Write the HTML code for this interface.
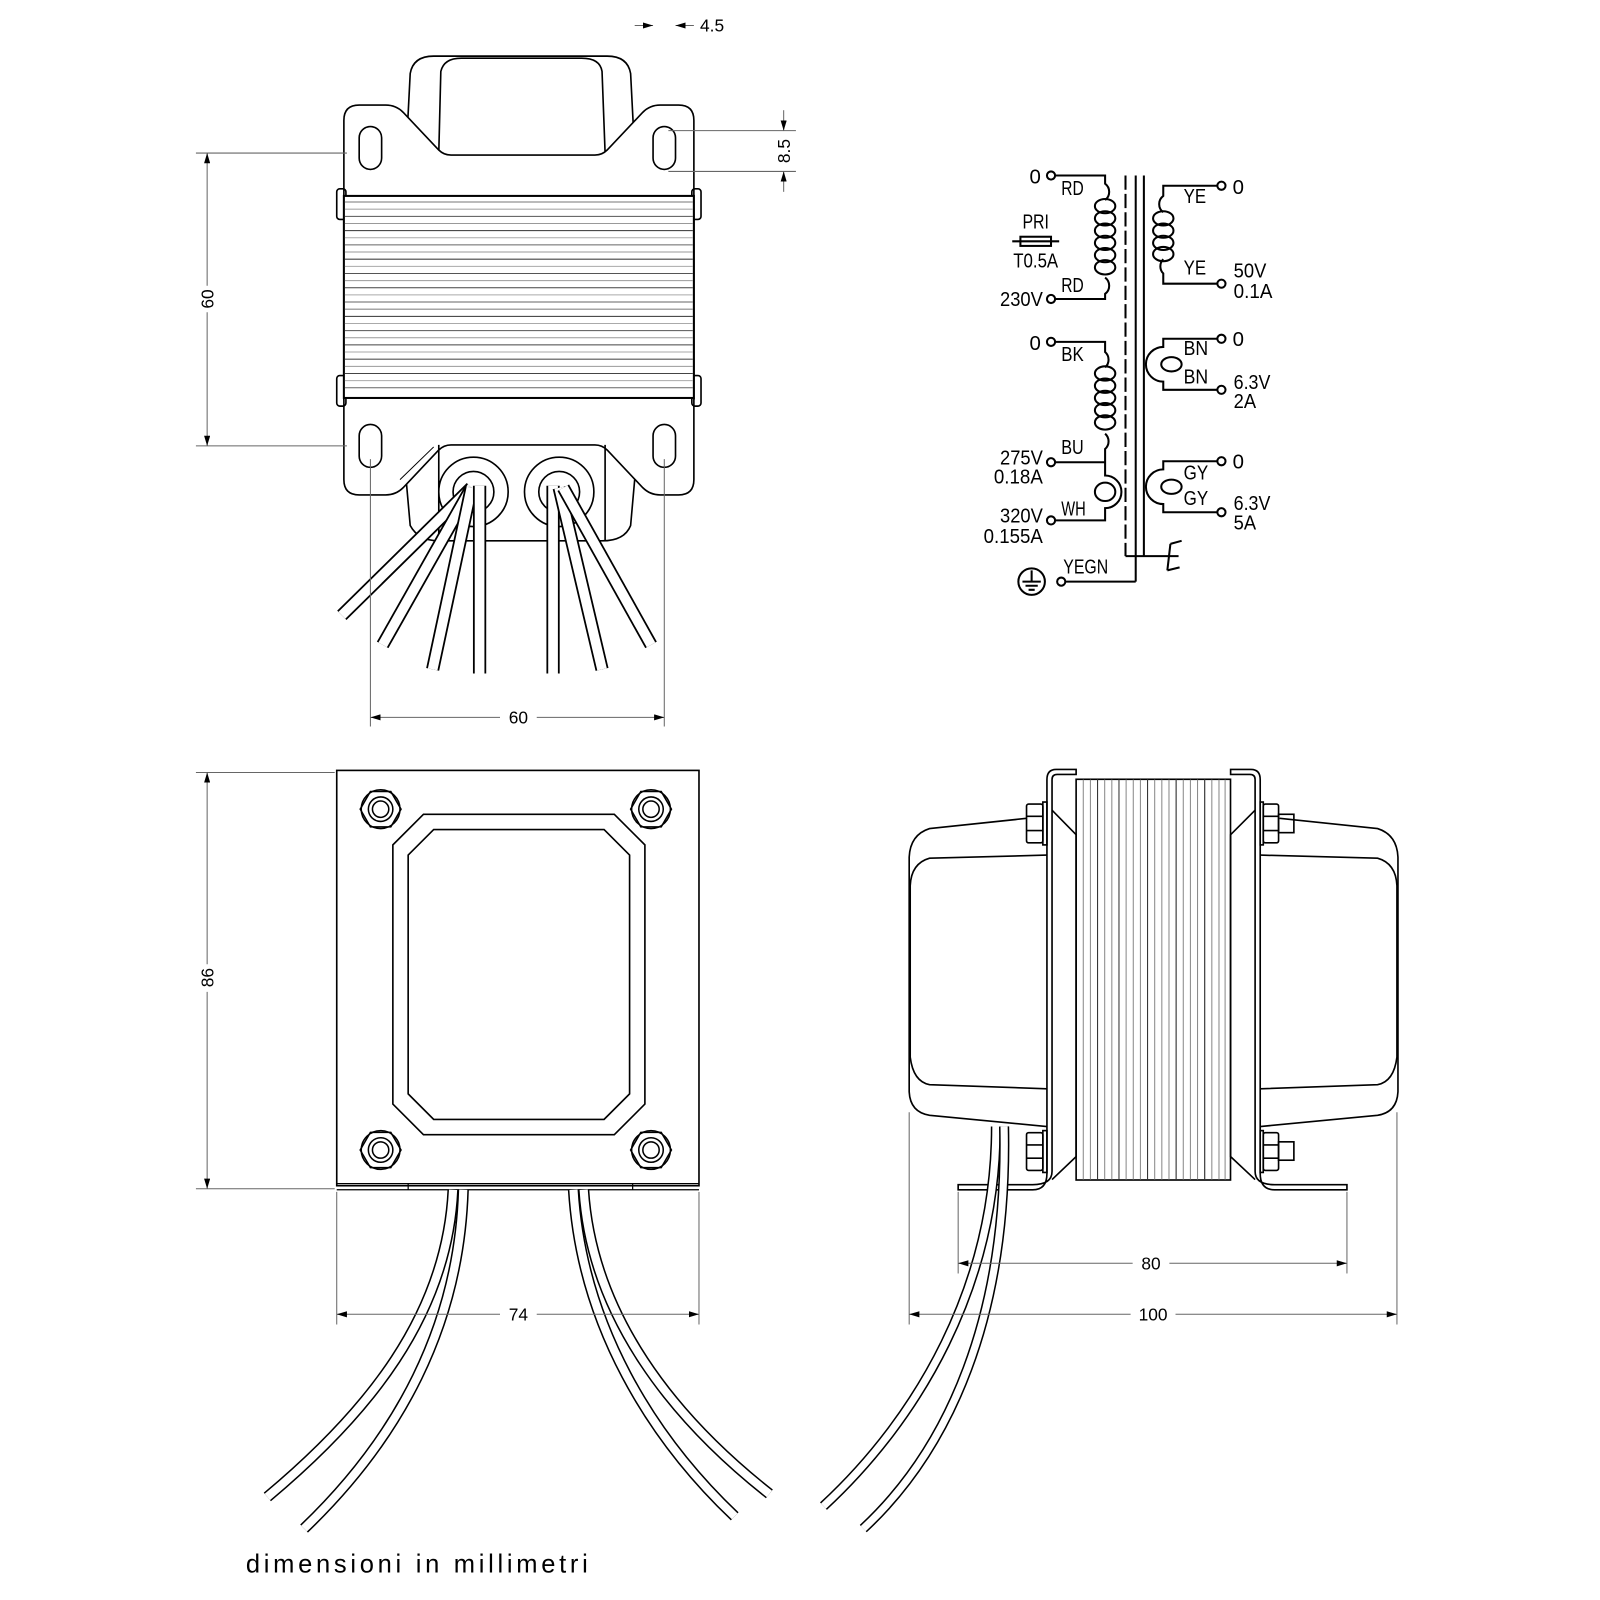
<!DOCTYPE html>
<html><head><meta charset="utf-8"><style>
html,body{margin:0;padding:0;background:#fff}
svg{display:block}
text{font-family:"Liberation Sans",sans-serif}
</style></head><body>
<svg width="1600" height="1600" viewBox="0 0 1568 1568" xmlns="http://www.w3.org/2000/svg">
<defs>
<marker id="a" viewBox="0 0 10 6" refX="10" refY="3" markerWidth="10" markerHeight="6" orient="auto-start-reverse" markerUnits="userSpaceOnUse"><path d="M0,0 L10,3 L0,6 Z" fill="#000"/></marker>
</defs>
<rect width="1568" height="1568" fill="#fff"/>

<!-- ===== TOP VIEW ===== -->
<g fill="none" stroke="#000" stroke-width="1.6">
<path d="M398,150 L402,72 Q405,55 425,55 L595,55 Q615,55 618,72 L622,150"/>
<path d="M430,150 L432,70 Q435,57 452,57 L570,57 Q588,57 590,70 L593,150"/>
<path d="M337,392 L337,118 Q337,103 352,103 L378,103 Q388,103 395,110 L430,147 Q435,152 442,152 L583,152 Q590,152 595,147 L630,110 Q637,103 647,103 L665,103 Q680,103 680,118 L680,392" fill="#fff"/>
<path d="M398,470 L402,515 Q410,530 430,530 L590,530 Q612,530 618,515 L622,470"/>
<path d="M337,390 L337,470 Q337,485 352,485 L378,485 Q388,485 395,478 L430,441 Q435,436 442,436 L583,436 Q590,436 595,441 L630,478 Q637,485 647,485 L665,485 Q680,485 680,470 L680,390" fill="#fff"/>
<path d="M430,436 L430,530 M593,436 L593,530"/>
<path d="M392,470 L425,438" stroke-width="1"/>
<rect x="352" y="124" width="22" height="42" rx="11"/>
<rect x="640" y="124" width="22" height="42" rx="11"/>
<rect x="352" y="416" width="22" height="42" rx="11"/>
<rect x="640" y="416" width="22" height="42" rx="11"/>
<rect x="330" y="185" width="9" height="30" rx="3"/>
<rect x="330" y="368" width="9" height="30" rx="3"/>
<rect x="678" y="185" width="9" height="30" rx="3"/>
<rect x="678" y="368" width="9" height="30" rx="3"/>
<rect x="337" y="192" width="343" height="198" fill="#fff" stroke-width="2"/>
</g>
<g stroke-width="1">
<line x1="338" x2="679" y1="198" y2="198" stroke="#777"/><line x1="338" x2="679" y1="205" y2="205" stroke="#aaa"/><line x1="338" x2="679" y1="212" y2="212" stroke="#555"/><line x1="338" x2="679" y1="219" y2="219" stroke="#999"/><line x1="338" x2="679" y1="226" y2="226" stroke="#333"/><line x1="338" x2="679" y1="233" y2="233" stroke="#aaa"/><line x1="338" x2="679" y1="240" y2="240" stroke="#666"/><line x1="338" x2="679" y1="247" y2="247" stroke="#999"/><line x1="338" x2="679" y1="254" y2="254" stroke="#444"/><line x1="338" x2="679" y1="261" y2="261" stroke="#aaa"/><line x1="338" x2="679" y1="268" y2="268" stroke="#555"/><line x1="338" x2="679" y1="275" y2="275" stroke="#999"/><line x1="338" x2="679" y1="282" y2="282" stroke="#444"/><line x1="338" x2="679" y1="289" y2="289" stroke="#aaa"/><line x1="338" x2="679" y1="296" y2="296" stroke="#666"/><line x1="338" x2="679" y1="303" y2="303" stroke="#888"/><line x1="338" x2="679" y1="310" y2="310" stroke="#333"/><line x1="338" x2="679" y1="317" y2="317" stroke="#aaa"/><line x1="338" x2="679" y1="324" y2="324" stroke="#555"/><line x1="338" x2="679" y1="331" y2="331" stroke="#999"/><line x1="338" x2="679" y1="338" y2="338" stroke="#444"/><line x1="338" x2="679" y1="345" y2="345" stroke="#aaa"/><line x1="338" x2="679" y1="352" y2="352" stroke="#555"/><line x1="338" x2="679" y1="359" y2="359" stroke="#999"/><line x1="338" x2="679" y1="366" y2="366" stroke="#444"/><line x1="338" x2="679" y1="373" y2="373" stroke="#aaa"/><line x1="338" x2="679" y1="380" y2="380" stroke="#666"/>
</g>
<g fill="#fff" stroke="#000" stroke-width="1.6">
<circle cx="464" cy="482" r="34"/><circle cx="464" cy="482" r="20"/>
<circle cx="548" cy="482" r="34"/><circle cx="548" cy="482" r="20"/>
</g>
<g fill="none">
<path d="M462,478 L335,603" stroke="#000" stroke-width="13"/><path d="M462,478 L335,603" stroke="#fff" stroke-width="9.5"/>
<path d="M462,478 L375,632" stroke="#000" stroke-width="13"/><path d="M462,478 L375,632" stroke="#fff" stroke-width="9.5"/>
<path d="M462,478 L424,656" stroke="#000" stroke-width="13"/><path d="M462,478 L424,656" stroke="#fff" stroke-width="9.5"/>
<path d="M470,476 L470,660" stroke="#000" stroke-width="13"/><path d="M470,476 L470,660" stroke="#fff" stroke-width="9.5"/>
<path d="M542,476 L542,660" stroke="#000" stroke-width="13"/><path d="M542,476 L542,660" stroke="#fff" stroke-width="9.5"/>
<path d="M548,478 L590,656" stroke="#000" stroke-width="13"/><path d="M548,478 L590,656" stroke="#fff" stroke-width="9.5"/>
<path d="M552,478 L638,632" stroke="#000" stroke-width="13"/><path d="M552,478 L638,632" stroke="#fff" stroke-width="9.5"/>
</g>

<!-- top dims -->
<g stroke="#666" stroke-width="1" fill="none">
<line x1="192" y1="150" x2="340" y2="150"/><line x1="192" y1="437" x2="340" y2="437"/>
<line x1="203" y1="150" x2="203" y2="280" marker-start="url(#a)"/><line x1="203" y1="306" x2="203" y2="437" marker-end="url(#a)"/>
<line x1="363" y1="450" x2="363" y2="712"/><line x1="651" y1="450" x2="651" y2="712"/>
<line x1="363" y1="703" x2="490" y2="703" marker-start="url(#a)"/><line x1="526" y1="703" x2="651" y2="703" marker-end="url(#a)"/>
<line x1="655" y1="128" x2="780" y2="128"/><line x1="655" y1="168" x2="780" y2="168"/>
<line x1="768" y1="108" x2="768" y2="128" marker-end="url(#a)"/><line x1="768" y1="188" x2="768" y2="168" marker-end="url(#a)"/>
<line x1="622" y1="25" x2="640" y2="25" marker-end="url(#a)"/><line x1="680" y1="25" x2="662" y2="25" marker-end="url(#a)"/>
</g>
<g font-size="17" fill="#000">
<text x="209" y="293" transform="rotate(-90 209 293)" text-anchor="middle">60</text>
<text x="508" y="709" text-anchor="middle">60</text>
<text x="774" y="148" transform="rotate(-90 774 148)" text-anchor="middle">8.5</text>
<text x="686" y="31">4.5</text>
</g>

<!-- ===== FRONT VIEW ===== -->
<g fill="none" stroke="#000" stroke-width="1.6">
<rect x="330" y="755" width="355" height="407"/>
<path d="M330,1160 L685,1160 M330,1166 L685,1166 M400,1160 L400,1166 M620,1160 L620,1166" stroke-width="1.2"/>
<path d="M415,798 L602,798 L632,828 L632,1082 L602,1112 L415,1112 L385,1082 L385,828 Z"/>
<path d="M425,813 L592,813 L617,838 L617,1072 L592,1097 L425,1097 L400,1072 L400,838 Z"/>
</g>
<g fill="none" stroke="#000" stroke-width="1.5">
<g transform="translate(373,793)"><polygon points="20,0 10,17.3 -10,17.3 -20,0 -10,-17.3 10,-17.3"/><circle r="19"/><circle r="12"/><circle r="8"/></g>
<g transform="translate(638,793)"><polygon points="20,0 10,17.3 -10,17.3 -20,0 -10,-17.3 10,-17.3"/><circle r="19"/><circle r="12"/><circle r="8"/></g>
<g transform="translate(373,1127)"><polygon points="20,0 10,17.3 -10,17.3 -20,0 -10,-17.3 10,-17.3"/><circle r="19"/><circle r="12"/><circle r="8"/></g>
<g transform="translate(638,1127)"><polygon points="20,0 10,17.3 -10,17.3 -20,0 -10,-17.3 10,-17.3"/><circle r="19"/><circle r="12"/><circle r="8"/></g>
</g>
<g fill="none">
<path d="M444,1166 C438,1290 360,1385 262,1467" stroke="#000" stroke-width="11"/><path d="M444,1166 C438,1290 360,1385 262,1467" stroke="#fff" stroke-width="8"/>
<path d="M454,1166 C450,1300 390,1410 298,1498" stroke="#000" stroke-width="11"/><path d="M454,1166 C450,1300 390,1410 298,1498" stroke="#fff" stroke-width="8"/>
<path d="M562,1166 C570,1300 640,1410 720,1486" stroke="#000" stroke-width="11"/><path d="M562,1166 C570,1300 640,1410 720,1486" stroke="#fff" stroke-width="8"/>
<path d="M572,1166 C580,1290 660,1390 754,1464" stroke="#000" stroke-width="11"/><path d="M572,1166 C580,1290 660,1390 754,1464" stroke="#fff" stroke-width="8"/>
</g>
<g stroke="#666" stroke-width="1" fill="none">
<line x1="192" y1="757" x2="328" y2="757"/><line x1="192" y1="1165" x2="328" y2="1165"/>
<line x1="203" y1="757" x2="203" y2="945" marker-start="url(#a)"/><line x1="203" y1="972" x2="203" y2="1165" marker-end="url(#a)"/>
<line x1="330" y1="1168" x2="330" y2="1298"/><line x1="685" y1="1168" x2="685" y2="1298"/>
<line x1="330" y1="1288" x2="490" y2="1288" marker-start="url(#a)"/><line x1="526" y1="1288" x2="685" y2="1288" marker-end="url(#a)"/>
</g>
<g font-size="17" fill="#000">
<text x="209" y="958" transform="rotate(-90 209 958)" text-anchor="middle">86</text>
<text x="508" y="1294" text-anchor="middle">74</text>
</g>

<!-- ===== SIDE VIEW ===== -->
<g fill="none" stroke="#000" stroke-width="1.6">
<path d="M1006,802 L911,812 Q892,818 891,840 L891,1070 Q892,1090 911,1093 L1026,1104"/>
<path d="M1026,838 L911,841 Q893,846 892,868 L892,1036 Q895,1060 911,1063 L1026,1067"/>
<path d="M1254,802 L1350,812 Q1369,818 1370,840 L1370,1070 Q1369,1090 1350,1093 L1235,1104"/>
<path d="M1235,838 L1350,841 Q1368,846 1369,868 L1369,1036 Q1366,1060 1350,1063 L1235,1067"/>
<rect x="1054.6" y="763.7" width="151.3" height="392.7"/>
<path d="M1054.6,754 L1035,754 Q1026,754 1026,764 L1026,1150 Q1026,1166 1012,1166 L939,1166 L939,1161 L1012,1161 Q1031,1161 1031,1148 L1031,764 Q1031,759 1036,759 L1054.6,759 Z" fill="#fff"/>
<path d="M1031,794 L1054.6,818 L1054.6,1133.5 L1031,1156"/>
<path d="M1206,754 L1226,754 Q1235,754 1235,764 L1235,1150 Q1235,1166 1249,1166 L1320,1166 L1320,1161 L1249,1161 Q1230,1161 1230,1148 L1230,764 Q1230,759 1225,759 L1206,759 Z" fill="#fff"/>
<path d="M1230,794 L1206,818 L1206,1133.5 L1230,1156"/>
<rect x="1006" y="788" width="16" height="38" rx="2" fill="#fff"/><path d="M1006,800 L1022,800 M1006,814 L1022,814"/><rect x="1022" y="786" width="4" height="42"/>
<rect x="1006" y="1110" width="16" height="37" rx="2" fill="#fff"/><path d="M1006,1122 L1022,1122 M1006,1135 L1022,1135"/><rect x="1022" y="1108" width="4" height="41"/>
<rect x="1238" y="788" width="15" height="38" rx="2" fill="#fff"/><path d="M1238,800 L1253,800 M1238,814 L1253,814"/><rect x="1235" y="786" width="3" height="42"/><rect x="1253" y="798" width="15" height="18"/>
<rect x="1238" y="1110" width="15" height="37" rx="2" fill="#fff"/><path d="M1238,1122 L1253,1122 M1238,1135 L1253,1135"/><rect x="1235" y="1108" width="3" height="41"/><rect x="1253" y="1119" width="15" height="18"/>
</g>
<g stroke="#888" stroke-width="1">
<path d="M1061.6,764 V1156 M1068.6,764 V1156 M1075.6,764 V1156 M1082.6,764 V1156 M1089.6,764 V1156 M1096.6,764 V1156 M1103.6,764 V1156 M1110.6,764 V1156 M1117.6,764 V1156 M1124.6,764 V1156 M1131.6,764 V1156 M1138.6,764 V1156 M1145.6,764 V1156 M1152.6,764 V1156 M1159.6,764 V1156 M1166.6,764 V1156 M1173.6,764 V1156 M1180.6,764 V1156 M1187.6,764 V1156 M1194.6,764 V1156 M1200.6,764 V1156"/>
</g>
<g stroke="#333" stroke-width="1"><path d="M1075.6,764 V1156 M1096.6,764 V1156 M1124.6,764 V1156 M1152.6,764 V1156 M1180.6,764 V1156"/></g>
<g fill="none">
<path d="M976,1104 C976,1260 900,1390 807,1476" stroke="#000" stroke-width="10"/><path d="M976,1104 C976,1260 900,1390 807,1476" stroke="#fff" stroke-width="7"/>
<path d="M984,1104 C988,1290 930,1420 846,1498" stroke="#000" stroke-width="10"/><path d="M984,1104 C988,1290 930,1420 846,1498" stroke="#fff" stroke-width="7"/>
</g>
<g stroke="#666" stroke-width="1" fill="none">
<line x1="891" y1="1090" x2="891" y2="1298"/><line x1="1369" y1="1090" x2="1369" y2="1298"/>
<line x1="939" y1="1168" x2="939" y2="1248"/><line x1="1320" y1="1168" x2="1320" y2="1248"/>
<line x1="939" y1="1238" x2="1110" y2="1238" marker-start="url(#a)"/><line x1="1146" y1="1238" x2="1320" y2="1238" marker-end="url(#a)"/>
<line x1="891" y1="1288" x2="1108" y2="1288" marker-start="url(#a)"/><line x1="1152" y1="1288" x2="1369" y2="1288" marker-end="url(#a)"/>
</g>
<g font-size="17" fill="#000">
<text x="1128" y="1244" text-anchor="middle">80</text>
<text x="1130" y="1294" text-anchor="middle">100</text>
</g>

<!-- ===== SCHEMATIC ===== -->
<g fill="none" stroke="#000" stroke-width="2">
<line x1="1103" y1="172" x2="1103" y2="545" stroke-dasharray="14,4"/>
<line x1="1113" y1="172" x2="1113" y2="570"/>
<line x1="1121" y1="172" x2="1121" y2="545"/>
<path d="M1103,545 L1148,545 M1147,533 L1144,559 M1147,533 L1158,530 M1144,559 L1156,556 M1146,545 L1155,545"/>
<circle cx="1030" cy="172" r="4" fill="#fff"/><circle cx="1030" cy="293" r="4" fill="#fff"/>
<path d="M1034,172 L1083,172 L1083,180 A10,10 0 0 1 1083,196 M1083,272 A10,10 0 0 1 1083,288 L1083,293 L1034,293"/>
<ellipse cx="1083" cy="202" rx="10" ry="7"/><ellipse cx="1083" cy="214" rx="10" ry="7"/><ellipse cx="1083" cy="226" rx="10" ry="7"/><ellipse cx="1083" cy="238" rx="10" ry="7"/><ellipse cx="1083" cy="250" rx="10" ry="7"/><ellipse cx="1083" cy="262" rx="10" ry="7"/>
<rect x="1000" y="232" width="30" height="9"/><path d="M992,236.5 L1038,236.5"/>
<circle cx="1030" cy="335" r="4" fill="#fff"/><circle cx="1030" cy="453" r="4" fill="#fff"/><circle cx="1030" cy="510" r="4" fill="#fff"/>
<path d="M1034,335 L1083,335 L1083,345 A10,10 0 0 1 1083,360 M1083,425 A10,10 0 0 1 1083,440 L1083,466 A10,10 0 0 1 1083,498 L1083,510 L1034,510 M1034,453 L1083,453"/>
<ellipse cx="1083" cy="366" rx="10" ry="7"/><ellipse cx="1083" cy="378" rx="10" ry="7"/><ellipse cx="1083" cy="390" rx="10" ry="7"/><ellipse cx="1083" cy="402" rx="10" ry="7"/><ellipse cx="1083" cy="414" rx="10" ry="7"/>
<ellipse cx="1083" cy="482" rx="10" ry="9"/>
<circle cx="1040" cy="570" r="4" fill="#fff"/>
<path d="M1044,570 L1113,570"/>
<circle cx="1011" cy="570" r="13"/>
<path d="M1011,559 L1011,570 M1002,570 L1020,570 M1005,574 L1017,574 M1008,578 L1014,578"/>
<circle cx="1197" cy="182" r="4" fill="#fff"/><circle cx="1197" cy="278" r="4" fill="#fff"/>
<path d="M1193,182 L1140,182 L1140,192 A10,10 0 0 0 1140,208 M1140,254 A10,10 0 0 0 1140,268 L1140,278 L1193,278"/>
<ellipse cx="1140" cy="214" rx="10" ry="7"/><ellipse cx="1140" cy="226" rx="10" ry="7"/><ellipse cx="1140" cy="238" rx="10" ry="7"/><ellipse cx="1140" cy="249" rx="10" ry="7"/>
<circle cx="1197" cy="332" r="4" fill="#fff"/><circle cx="1197" cy="382" r="4" fill="#fff"/>
<path d="M1193,332 L1140,332 L1140,340 A17,17 0 0 0 1140,374 L1140,382 L1193,382"/>
<ellipse cx="1148" cy="357" rx="10" ry="7"/>
<circle cx="1197" cy="452" r="4" fill="#fff"/><circle cx="1197" cy="502" r="4" fill="#fff"/>
<path d="M1193,452 L1140,452 L1140,460 A17,17 0 0 0 1140,494 L1140,502 L1193,502"/>
<ellipse cx="1148" cy="477" rx="10" ry="7"/>
</g>
<g font-size="20" fill="#000" lengthAdjust="spacingAndGlyphs">
<text x="1020" y="180" text-anchor="end">0</text>
<text x="1020" y="343" text-anchor="end">0</text>
<text x="1040" y="191" textLength="22" lengthAdjust="spacingAndGlyphs">RD</text>
<text x="1040" y="286" textLength="22" lengthAdjust="spacingAndGlyphs">RD</text>
<text x="1015" y="224" text-anchor="middle" textLength="26" lengthAdjust="spacingAndGlyphs">PRI</text>
<text x="993" y="262" textLength="44" lengthAdjust="spacingAndGlyphs">T0.5A</text>
<text x="980" y="300" textLength="42" lengthAdjust="spacingAndGlyphs">230V</text>
<text x="1040" y="354" textLength="22" lengthAdjust="spacingAndGlyphs">BK</text>
<text x="1040" y="445" textLength="22" lengthAdjust="spacingAndGlyphs">BU</text>
<text x="980" y="455" textLength="42" lengthAdjust="spacingAndGlyphs">275V</text>
<text x="974" y="474" textLength="48" lengthAdjust="spacingAndGlyphs">0.18A</text>
<text x="1040" y="505" textLength="24" lengthAdjust="spacingAndGlyphs">WH</text>
<text x="980" y="512" textLength="42" lengthAdjust="spacingAndGlyphs">320V</text>
<text x="964" y="532" textLength="58" lengthAdjust="spacingAndGlyphs">0.155A</text>
<text x="1042" y="562" textLength="44" lengthAdjust="spacingAndGlyphs">YEGN</text>
<text x="1208" y="190">0</text>
<text x="1160" y="199" textLength="22" lengthAdjust="spacingAndGlyphs">YE</text>
<text x="1160" y="269" textLength="22" lengthAdjust="spacingAndGlyphs">YE</text>
<text x="1209" y="272" textLength="32" lengthAdjust="spacingAndGlyphs">50V</text>
<text x="1209" y="292" textLength="38" lengthAdjust="spacingAndGlyphs">0.1A</text>
<text x="1208" y="339">0</text>
<text x="1160" y="348" textLength="24" lengthAdjust="spacingAndGlyphs">BN</text>
<text x="1160" y="376" textLength="24" lengthAdjust="spacingAndGlyphs">BN</text>
<text x="1209" y="381" textLength="36" lengthAdjust="spacingAndGlyphs">6.3V</text>
<text x="1209" y="400" textLength="22" lengthAdjust="spacingAndGlyphs">2A</text>
<text x="1208" y="459">0</text>
<text x="1160" y="470" textLength="24" lengthAdjust="spacingAndGlyphs">GY</text>
<text x="1160" y="495" textLength="24" lengthAdjust="spacingAndGlyphs">GY</text>
<text x="1209" y="500" textLength="36" lengthAdjust="spacingAndGlyphs">6.3V</text>
<text x="1209" y="519" textLength="22" lengthAdjust="spacingAndGlyphs">5A</text>
</g>

<text x="241" y="1541" font-size="25" fill="#000" textLength="335" lengthAdjust="spacing">dimensioni  in  millimetri</text>
</svg>
</body></html>
